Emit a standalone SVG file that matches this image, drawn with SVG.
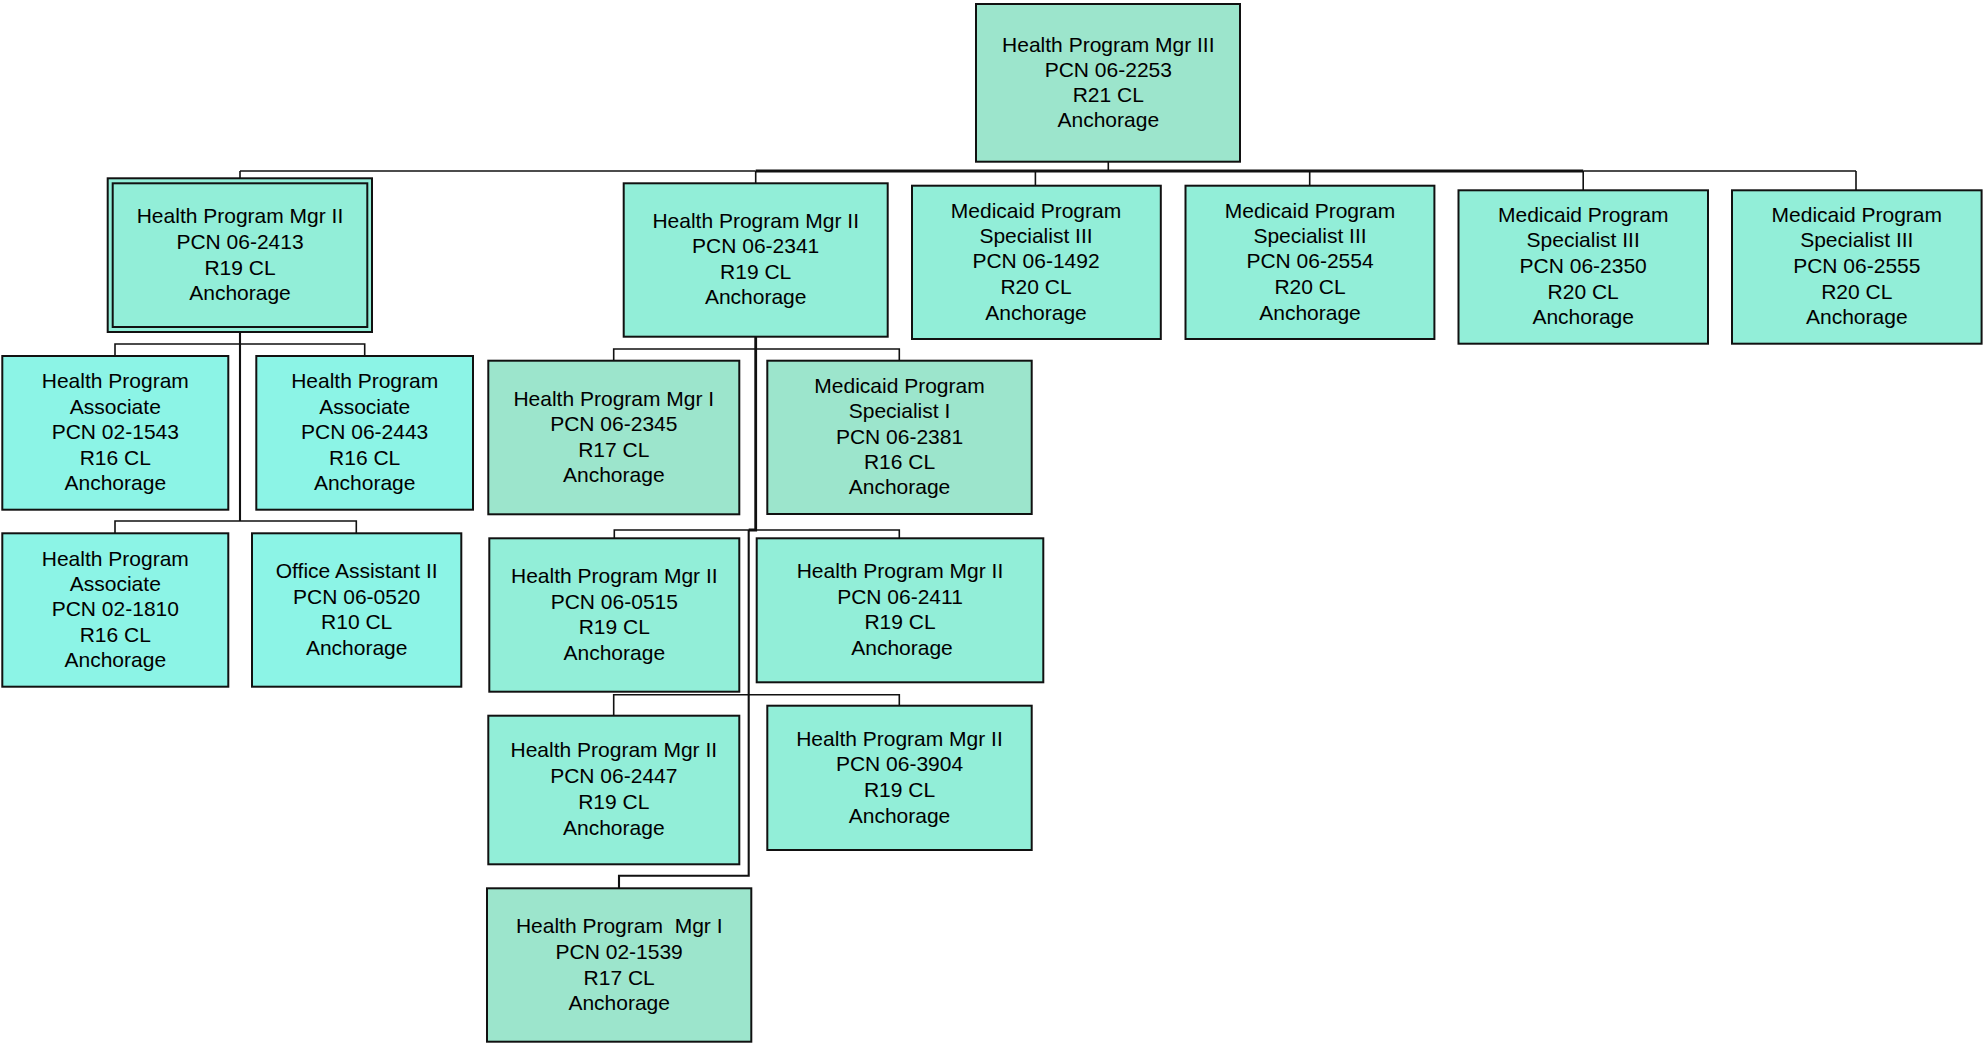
<svg xmlns="http://www.w3.org/2000/svg" width="1986" height="1044" viewBox="0 0 1986 1044">
<style>
rect.box{stroke:#111;stroke-width:2}
.muted{fill:#9CE5CC}
.mid{fill:#92EED8}
.cyan{fill:#8CF4E6}
text{font-family:"Liberation Sans",Arial,sans-serif;font-size:21px;fill:#000;text-anchor:middle;white-space:pre}
.c{fill:none;stroke:#111;stroke-width:1.6}
.cm{fill:none;stroke:#111;stroke-width:2.1}
.ct{fill:none;stroke:#111;stroke-width:2.8}
</style>
<rect width="1986" height="1044" fill="#fff"/>
<g id="connectors">
<path class="c" d="M1108.3 161.7V171"/>
<path class="c" d="M240 171H755.7"/>
<path class="ct" d="M755.7 171H1583.2"/>
<path class="c" d="M1583.2 171H1856"/>
<path class="c" d="M240 171V178.3M755.7 171V183.3M1035.4 171V185.7M1309.7 171V185.7M1583.2 171V190.3M1856 171V190.3"/>
<path class="cm" d="M240 332V521"/>
<path class="c" d="M115 356V344H364.7V356"/>
<path class="c" d="M115 533.3V521H356.3V533.3"/>
<path class="ct" d="M755.7 336.7V530H748.7"/>
<path class="c" d="M613.7 360.7V349H899.3V360.7"/>
<path class="c" d="M614.3 538.3V530H899.3V538.3"/>
<path class="cm" d="M748.7 530V875.7H619V888.3"/>
<path class="c" d="M613.7 715.7V694.7H899.3V706"/>
</g>
<g id="n2253">
<rect class="box muted" x="976" y="4" width="264" height="157.7"/>
<text x="1108.3" y="51.5">Health Program Mgr III</text>
<text x="1108.3" y="76.5">PCN 06-2253</text>
<text x="1108.3" y="101.5">R21 CL</text>
<text x="1108.3" y="126.5">Anchorage</text>
</g>
<g id="n2413">
<rect class="box mid" x="107.7" y="178.3" width="264.3" height="153.7"/>
<rect class="box mid" x="112.7" y="183.3" width="254.6" height="143.7"/>
<text x="240" y="222.7">Health Program Mgr II</text>
<text x="240" y="249">PCN 06-2413</text>
<text x="240" y="275">R19 CL</text>
<text x="240" y="300">Anchorage</text>
</g>
<g id="n2341">
<rect class="box mid" x="623.7" y="183.3" width="264" height="153.4"/>
<text x="755.7" y="227.7">Health Program Mgr II</text>
<text x="755.7" y="253.3">PCN 06-2341</text>
<text x="755.7" y="279.3">R19 CL</text>
<text x="755.7" y="304.3">Anchorage</text>
</g>
<g id="n1492">
<rect class="box mid" x="912" y="185.7" width="248.8" height="153.3"/>
<text x="1036" y="218.3">Medicaid Program</text>
<text x="1036" y="243.3">Specialist III</text>
<text x="1036" y="268.3">PCN 06-1492</text>
<text x="1036" y="294">R20 CL</text>
<text x="1036" y="319.5">Anchorage</text>
</g>
<g id="n2554">
<rect class="box mid" x="1185.5" y="185.7" width="248.9" height="153.3"/>
<text x="1310" y="218.3">Medicaid Program</text>
<text x="1310" y="243.3">Specialist III</text>
<text x="1310" y="268.3">PCN 06-2554</text>
<text x="1310" y="294">R20 CL</text>
<text x="1310" y="319.5">Anchorage</text>
</g>
<g id="n2350">
<rect class="box mid" x="1458.5" y="190.3" width="249.5" height="153.4"/>
<text x="1583.2" y="221.7">Medicaid Program</text>
<text x="1583.2" y="246.7">Specialist III</text>
<text x="1583.2" y="272.5">PCN 06-2350</text>
<text x="1583.2" y="298.5">R20 CL</text>
<text x="1583.2" y="324">Anchorage</text>
</g>
<g id="n2555">
<rect class="box mid" x="1732" y="190.3" width="249.6" height="153.4"/>
<text x="1856.8" y="221.7">Medicaid Program</text>
<text x="1856.8" y="246.7">Specialist III</text>
<text x="1856.8" y="272.5">PCN 06-2555</text>
<text x="1856.8" y="298.5">R20 CL</text>
<text x="1856.8" y="324">Anchorage</text>
</g>
<g id="n1543">
<rect class="box cyan" x="2.3" y="356" width="226" height="153.7"/>
<text x="115.3" y="388.3">Health Program</text>
<text x="115.3" y="414.3">Associate</text>
<text x="115.3" y="439.3">PCN 02-1543</text>
<text x="115.3" y="465">R16 CL</text>
<text x="115.3" y="490">Anchorage</text>
</g>
<g id="n2443">
<rect class="box cyan" x="256.3" y="356" width="216.7" height="153.7"/>
<text x="364.7" y="388.3">Health Program</text>
<text x="364.7" y="414.3">Associate</text>
<text x="364.7" y="439.3">PCN 06-2443</text>
<text x="364.7" y="465">R16 CL</text>
<text x="364.7" y="490">Anchorage</text>
</g>
<g id="n1810">
<rect class="box cyan" x="2.3" y="533.3" width="226" height="153.4"/>
<text x="115.3" y="566">Health Program</text>
<text x="115.3" y="590.7">Associate</text>
<text x="115.3" y="616">PCN 02-1810</text>
<text x="115.3" y="641.7">R16 CL</text>
<text x="115.3" y="667.3">Anchorage</text>
</g>
<g id="n0520">
<rect class="box cyan" x="252" y="533.3" width="209.3" height="153.4"/>
<text x="356.7" y="578.3">Office Assistant II</text>
<text x="356.7" y="604">PCN 06-0520</text>
<text x="356.7" y="629.3">R10 CL</text>
<text x="356.7" y="655">Anchorage</text>
</g>
<g id="n2345">
<rect class="box muted" x="488.3" y="360.7" width="251" height="153.6"/>
<text x="613.8" y="406">Health Program Mgr I</text>
<text x="613.8" y="431">PCN 06-2345</text>
<text x="613.8" y="456.7">R17 CL</text>
<text x="613.8" y="481.7">Anchorage</text>
</g>
<g id="n2381">
<rect class="box muted" x="767.3" y="360.7" width="264.4" height="153.3"/>
<text x="899.5" y="392.7">Medicaid Program</text>
<text x="899.5" y="418.3">Specialist I</text>
<text x="899.5" y="444">PCN 06-2381</text>
<text x="899.5" y="469.3">R16 CL</text>
<text x="899.5" y="494.3">Anchorage</text>
</g>
<g id="n0515">
<rect class="box mid" x="489.3" y="538.3" width="250" height="153.4"/>
<text x="614.3" y="583.3">Health Program Mgr II</text>
<text x="614.3" y="609">PCN 06-0515</text>
<text x="614.3" y="634">R19 CL</text>
<text x="614.3" y="660">Anchorage</text>
</g>
<g id="n2411">
<rect class="box mid" x="756.7" y="538.3" width="286.6" height="144"/>
<text x="900" y="578.3">Health Program Mgr II</text>
<text x="900" y="604">PCN 06-2411</text>
<text x="900" y="629.3">R19 CL</text>
<text x="902" y="655">Anchorage</text>
</g>
<g id="n2447">
<rect class="box mid" x="488.3" y="715.7" width="251" height="148.6"/>
<text x="613.8" y="757.3">Health Program Mgr II</text>
<text x="613.8" y="783.3">PCN 06-2447</text>
<text x="613.8" y="809">R19 CL</text>
<text x="613.8" y="835">Anchorage</text>
</g>
<g id="n3904">
<rect class="box mid" x="767.3" y="705.7" width="264.4" height="144.3"/>
<text x="899.5" y="745.7">Health Program Mgr II</text>
<text x="899.5" y="771.3">PCN 06-3904</text>
<text x="899.5" y="797.3">R19 CL</text>
<text x="899.5" y="823">Anchorage</text>
</g>
<g id="n1539">
<rect class="box muted" x="487" y="888.3" width="264.3" height="153.4"/>
<text x="619.2" y="933">Health Program  Mgr I</text>
<text x="619.2" y="959">PCN 02-1539</text>
<text x="619.2" y="984.7">R17 CL</text>
<text x="619.2" y="1010">Anchorage</text>
</g>
</svg>
